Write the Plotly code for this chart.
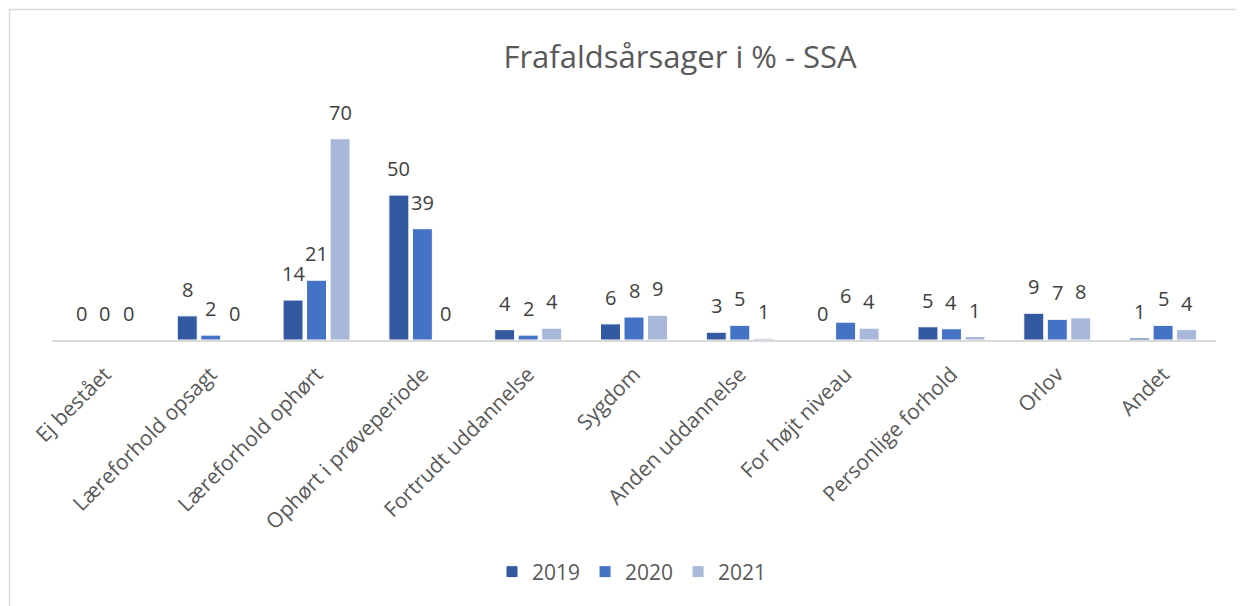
import plotly.graph_objects as go

categories = ["Ej bestået", "Læreforhold opsagt", "Læreforhold ophørt", "Ophørt i prøveperiode",
              "Fortrudt uddannelse", "Sygdom", "Anden uddannelse", "For højt niveau",
              "Personlige forhold", "Orlov", "Andet"]
years = ["2019", "2020", "2021"]
values_2019 = [0, 8.4, 13.9, 50.4, 3.6, 5.6, 2.7, 0, 4.6, 9.3, 0.7]
values_2020 = [0, 1.7, 20.8, 38.7, 1.7, 8.0, 5.1, 6.2, 3.9, 7.2, 5.1]
values_2021 = [0, 0, 70.0, 0, 4.1, 8.6, 0.6, 4.1, 1.2, 7.7, 3.6]
colors = ["#335AA1", "#4472C4", "#A9B7DB"]

series = [values_2019, values_2020, values_2021]

# page has an 8px body margin; figure pixel = page pixel - OFF
OFF = 8
W, H = 1244 - OFF, 606 - OFF
PL, PR, PT, PB = 52, 1216, 110, 340   # plot area in page pixels
L, T = PL - OFF, PT - OFF
R, B = W - (PR - OFF), H - (PB - OFF)
plot_w = PR - PL
plot_h = PB - PT
FONT = "Open Sans"

fig = go.Figure()
for name, vals, col in zip(years, series, colors):
    fig.add_trace(go.Bar(
        x=categories, y=vals, name=name,
        marker=dict(color=col, line=dict(color="white", width=1)),
        hoverinfo="x+y+name",
    ))

bargap = 0.334
slot = (1 - bargap) / 3
annotations = []
for k, vals in enumerate(series):
    for i, v in enumerate(vals):
        annotations.append(dict(
            x=i + (k - 1) * slot, y=v, xref="x", yref="y",
            text=str(int(round(v))), showarrow=False,
            yanchor="bottom", xanchor="center", yshift=11,
            font=dict(family=FONT, size=20, color="#404040"),
        ))

def px_x(p):
    return (p - PL) / plot_w

def px_y(p):
    return (PB - p) / plot_h

fig.update_layout(
    width=W, height=H,
    margin=dict(l=L, r=R, t=T, b=B, autoexpand=False),
    paper_bgcolor="white", plot_bgcolor="white",
    barmode="group", bargap=bargap, bargroupgap=0.15,
    title=dict(text="Frafaldsårsager i % - SSA", x=px_x(680), xanchor="center",
               xref="paper", y=1 - (57 - OFF) / H, yref="container", yanchor="middle",
               font=dict(family=FONT, size=31, color="#595959")),
    xaxis=dict(type="category", showline=True, linecolor="#D9D9D9", linewidth=1.5,
               ticks="", tickangle=-45, showgrid=False, zeroline=False,
               ticklabelstandoff=12,
               tickfont=dict(family=FONT, size=21, color="#595959")),
    yaxis=dict(range=[0, 80], visible=False, showgrid=False, zeroline=False),
    legend=dict(orientation="h", x=px_x(632), xanchor="center", y=px_y(572), yanchor="middle",
                font=dict(family=FONT, size=21, color="#595959"), traceorder="normal",
                itemwidth=30),
    annotations=annotations,
    shapes=[dict(type="rect", xref="paper", yref="paper",
                 x0=px_x(9.5), x1=px_x(1400), y0=px_y(800), y1=px_y(9.5),
                 line=dict(color="#D9D9D9", width=1.5), fillcolor="rgba(0,0,0,0)", layer="below")],
    showlegend=True,
)

fig.write_html("out.html")
